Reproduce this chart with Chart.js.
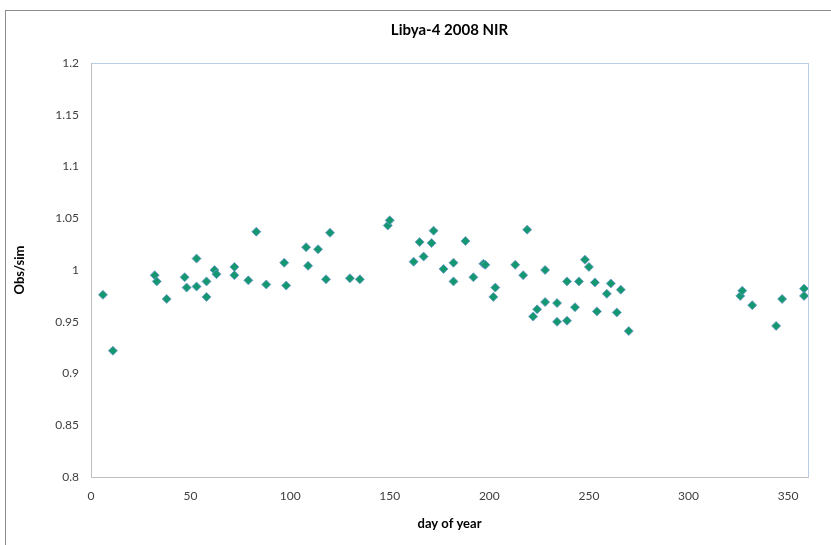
<!DOCTYPE html>
<html lang="en">
<head>
    <meta charset="UTF-8">
    <title>Libya-4 2008 NIR</title>
    <script src="https://cdn.jsdelivr.net/npm/chart.js@4.4.1/dist/chart.umd.min.js"></script>
    <style>
        body { margin: 0; background: #fff; overflow: hidden; }
        .frame { position: absolute; left: 5px; top: 10px; width: 900px; height: 600px; border: 1px solid #8c8c8c; }
        .wrap { position: absolute; left: 0; top: 0; width: 831px; height: 545px; }
    </style>
</head>
<body>
    <div class="frame"></div>
    <div class="wrap">
        <canvas id="ratioChart" width="831" height="545"></canvas>
    </div>
    <script>
// day of year and obs/sim ratio
var days = [6, 11, 32, 33, 38, 47, 48, 53, 53, 58, 58, 62, 63, 72, 72, 79, 83, 88, 97, 98,
    108, 109, 114, 118, 120, 130, 135, 149, 150, 162, 165, 167, 171, 172, 177, 182, 182, 188, 192, 197,
    198, 202, 203, 213, 217, 219, 222, 224, 228, 228, 234, 234, 239, 239, 243, 245, 248, 250, 253, 254,
    259, 261, 264, 266, 270, 326, 327, 332, 344, 347, 358, 358];
var ratios = [0.976, 0.922, 0.995, 0.989, 0.972, 0.993, 0.983, 0.984, 1.011, 0.974, 0.989, 1.000, 0.996, 1.003, 0.995, 0.990, 1.037, 0.986, 1.007, 0.985,
    1.022, 1.004, 1.020, 0.991, 1.036, 0.992, 0.991, 1.043, 1.048, 1.008, 1.027, 1.013, 1.026, 1.038, 1.001, 1.007, 0.989, 1.028, 0.993, 1.006,
    1.005, 0.974, 0.983, 1.005, 0.995, 1.039, 0.955, 0.962, 0.969, 1.000, 0.950, 0.968, 0.951, 0.989, 0.964, 0.989, 1.010, 1.003, 0.988, 0.960,
    0.977, 0.987, 0.959, 0.981, 0.941, 0.975, 0.980, 0.966, 0.946, 0.972, 0.982, 0.975];
var xTicks = [0, 50, 100, 150, 200, 250, 300, 350];
var yTicks = [0.8, 0.85, 0.9, 0.95, 1, 1.05, 1.1, 1.15, 1.2];

var points = days.map(function (d, i) { return { x: d, y: ratios[i] }; });

// light blue frame round the plot area, like the Excel chart
var plotFrame = {
    id: 'plotFrame',
    beforeDatasetsDraw: function (chart) {
        var a = chart.chartArea, c = chart.ctx;
        c.save();
        c.strokeStyle = '#b9cde5';
        c.lineWidth = 1;
        c.strokeRect(a.left + 0.5, a.top + 0.5, a.right - a.left, a.bottom - a.top);
        c.strokeStyle = '#bfbfbf';
        c.beginPath();
        c.moveTo(a.left + 0.5, a.top);
        c.lineTo(a.left + 0.5, a.bottom + 0.5);
        c.lineTo(a.right + 0.5, a.bottom + 0.5);
        c.stroke();
        c.restore();
    }
};

var fontFam = 'Lato, "Open Sans", sans-serif';

var ctx = document.getElementById('ratioChart').getContext('2d');
var ratioChart = new Chart(ctx, {
    type: 'scatter',
    data: {
        datasets: [{
            data: points,
            pointStyle: 'rectRot',
            pointRadius: 4.5,
            backgroundColor: '#14986f',
            borderColor: '#6f96cf',
            borderWidth: 0.8
        }]
    },
    options: {
        responsive: false,
        animation: false,
        layout: { padding: { left: 0, right: 23, top: 10, bottom: 0 } },
        plugins: {
            legend: { display: false },
            tooltip: { enabled: false },
            title: {
                display: true,
                text: 'Libya-4 2008 NIR',
                fullSize: false,
                color: '#000',
                font: { family: fontFam, size: 15, weight: 'bold' },
                padding: { top: 11, bottom: 24 }
            }
        },
        scales: {
            x: {
                type: 'linear',
                min: 0,
                max: 360,
                afterBuildTicks: function (s) { s.ticks = xTicks.map(function (v) { return { value: v }; }); },
                afterFit: function (s) { s.height = 68; },
                grid: { display: false, drawTicks: false },
                border: { display: false },
                ticks: { padding: 12, color: '#404040', font: { family: fontFam, size: 12 } },
                title: {
                    display: true,
                    text: 'day of year',
                    color: '#000',
                    font: { family: fontFam, size: 13, weight: 'bold' },
                    padding: { top: 13, bottom: 13 }
                }
            },
            y: {
                min: 0.8,
                max: 1.2,
                afterBuildTicks: function (s) { s.ticks = yTicks.map(function (v) { return { value: v }; }); },
                afterFit: function (s) { s.width = 91; },
                grid: { display: false, drawTicks: false },
                border: { display: false },
                ticks: {
                    padding: 12,
                    color: '#404040',
                    font: { family: fontFam, size: 12 },
                    callback: function (v) { return String(Math.round(v * 100) / 100); }
                },
                title: {
                    display: true,
                    text: 'Obs/sim',
                    color: '#000',
                    font: { family: fontFam, size: 13, weight: 'bold' },
                    padding: { top: 12, bottom: 0 }
                }
            }
        }
    },
    plugins: [plotFrame]
});
    </script>
</body>
</html>
